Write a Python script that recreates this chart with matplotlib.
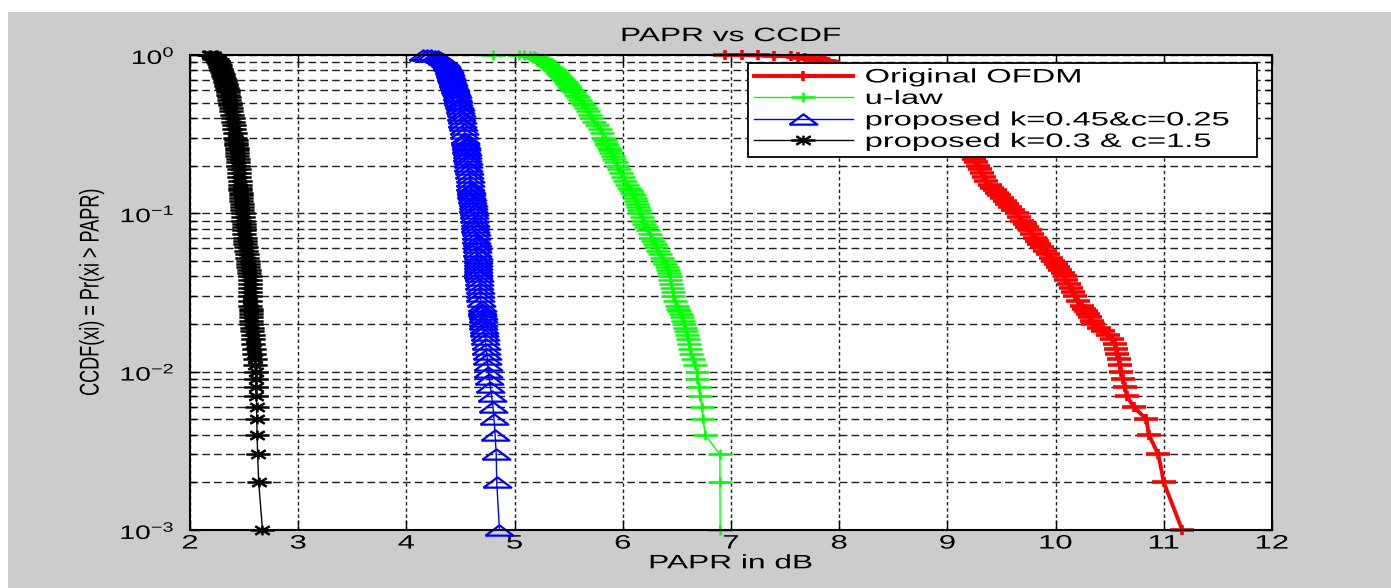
import matplotlib
matplotlib.use('Agg')
import matplotlib.pyplot as plt
from matplotlib.path import Path
from matplotlib.patches import Rectangle
from matplotlib.patheffects import AbstractPathEffect
from matplotlib.transforms import Affine2D
from matplotlib.ticker import NullFormatter

plt.rcParams['font.family'] = ['Liberation Sans', 'DejaVu Sans']
plt.rcParams['mathtext.fontset'] = 'custom'
plt.rcParams['mathtext.rm'] = 'Liberation Sans'
plt.rcParams['mathtext.it'] = 'Liberation Sans:italic'
plt.rcParams['mathtext.bf'] = 'Liberation Sans:bold'

# ---- data (CCDF level -> PAPR in dB for each scheme) ----
ccdf_levels = [
    1.0, 0.998, 0.995, 0.99, 0.98, 0.97, 0.96, 0.95, 0.94, 0.93, 0.92, 0.91, 0.9,
    0.88, 0.86, 0.84, 0.82, 0.8, 0.78, 0.76, 0.74, 0.72, 0.7,
    0.68, 0.66, 0.64, 0.62, 0.6, 0.58, 0.56, 0.54, 0.52, 0.5,
    0.48, 0.46, 0.44, 0.42, 0.4, 0.38, 0.36, 0.34, 0.32, 0.3,
    0.29, 0.28, 0.27, 0.26, 0.25, 0.24, 0.23, 0.22, 0.21, 0.2, 0.19, 0.18, 0.17, 0.16, 0.15,
    0.145, 0.14, 0.135, 0.13, 0.125, 0.12, 0.115, 0.11, 0.105, 0.1,
    0.095, 0.09, 0.086, 0.082, 0.078, 0.074, 0.07, 0.067, 0.064, 0.061, 0.058, 0.055, 0.052, 0.05,
    0.048, 0.046, 0.044, 0.042, 0.04, 0.038, 0.036, 0.034, 0.032, 0.03, 0.028, 0.026,
    0.025, 0.024, 0.023, 0.022, 0.021, 0.02, 0.019, 0.018, 0.017, 0.016, 0.015, 0.014, 0.013, 0.012, 0.011, 0.01,
    0.009, 0.008, 0.007, 0.006, 0.005, 0.004, 0.003, 0.002, 0.001]

papr_original = [
    6.94, 7.10, 7.25, 7.40, 7.55, 7.62, 7.68, 7.73, 7.77, 7.81, 7.84, 7.87, 7.90,
    7.94, 7.99, 8.05, 8.10, 8.15, 8.19, 8.24, 8.28, 8.33, 8.37,
    8.41, 8.45, 8.49, 8.52, 8.56, 8.60, 8.64, 8.67, 8.71, 8.74,
    8.77, 8.80, 8.83, 8.86, 8.89, 8.92, 8.96, 9.00, 9.04, 9.09,
    9.11, 9.13, 9.15, 9.17, 9.19, 9.21, 9.23, 9.25, 9.265, 9.28, 9.30, 9.32, 9.34, 9.36, 9.39,
    9.41, 9.44, 9.46, 9.48, 9.50, 9.53, 9.555, 9.58, 9.61, 9.64,
    9.665, 9.69, 9.715, 9.74, 9.76, 9.785, 9.81, 9.83, 9.85, 9.875, 9.90, 9.93, 9.96, 9.98,
    10.00, 10.025, 10.045, 10.07, 10.09, 10.10, 10.12, 10.14, 10.16, 10.18, 10.21, 10.24,
    10.26, 10.28, 10.30, 10.32, 10.335, 10.35, 10.40, 10.44, 10.48, 10.52, 10.545, 10.56, 10.57, 10.585, 10.595, 10.60,
    10.62, 10.64, 10.66, 10.72, 10.84, 10.86, 10.95, 11.00, 11.17]

papr_ulaw = [
    4.80, 5.04, 5.09, 5.14, 5.18, 5.20, 5.22, 5.233, 5.245, 5.255, 5.265, 5.275, 5.285,
    5.298, 5.31, 5.335, 5.355, 5.374, 5.39, 5.405, 5.42, 5.44, 5.46,
    5.474, 5.488, 5.50, 5.513, 5.527, 5.545, 5.565, 5.585, 5.605, 5.625,
    5.641, 5.658, 5.675, 5.693, 5.712, 5.736, 5.762, 5.785, 5.805, 5.82,
    5.832, 5.844, 5.856, 5.868, 5.88, 5.895, 5.908, 5.92, 5.934, 5.95, 5.966, 5.983, 6.00, 6.02, 6.04,
    6.06, 6.075, 6.088, 6.10, 6.11, 6.12, 6.13, 6.14, 6.15, 6.159,
    6.173, 6.188, 6.20, 6.215, 6.23, 6.247, 6.265, 6.28, 6.295, 6.31, 6.327, 6.345, 6.366, 6.38,
    6.392, 6.405, 6.416, 6.427, 6.433, 6.44, 6.446, 6.453, 6.46, 6.467, 6.482, 6.50,
    6.51, 6.522, 6.535, 6.545, 6.556, 6.566, 6.577, 6.585, 6.592, 6.60, 6.61, 6.62, 6.63, 6.645, 6.665, 6.683,
    6.69, 6.70, 6.713, 6.73, 6.744, 6.76, 6.898, 6.898, 6.90]

papr_k045 = [
    4.15, 4.19, 4.23, 4.26, 4.29, 4.305, 4.32, 4.33, 4.34, 4.348, 4.355, 4.36, 4.365,
    4.372, 4.378, 4.39, 4.395, 4.40, 4.405, 4.41, 4.416, 4.422, 4.428,
    4.434, 4.44, 4.446, 4.453, 4.46, 4.465, 4.47, 4.476, 4.481, 4.487,
    4.492, 4.497, 4.502, 4.507, 4.512, 4.518, 4.524, 4.53, 4.536, 4.542,
    4.545, 4.548, 4.551, 4.554, 4.557, 4.56, 4.563, 4.566, 4.569, 4.572, 4.576, 4.58, 4.584, 4.588, 4.592,
    4.595, 4.598, 4.601, 4.604, 4.607, 4.611, 4.615, 4.618, 4.622, 4.625,
    4.628, 4.631, 4.634, 4.637, 4.64, 4.643, 4.646, 4.649, 4.652, 4.654, 4.656, 4.658, 4.659, 4.66,
    4.661, 4.663, 4.664, 4.666, 4.668, 4.671, 4.674, 4.677, 4.68, 4.683, 4.688, 4.695,
    4.70, 4.703, 4.706, 4.708, 4.71, 4.712, 4.716, 4.72, 4.724, 4.728, 4.733, 4.738, 4.743, 4.748, 4.752, 4.757,
    4.766, 4.776, 4.788, 4.80, 4.81, 4.82, 4.83, 4.835, 4.86]

papr_k03 = [
    2.18, 2.187, 2.196, 2.21, 2.218, 2.225, 2.235, 2.24, 2.246, 2.25, 2.255, 2.258, 2.262,
    2.267, 2.273, 2.279, 2.284, 2.29, 2.296, 2.302, 2.309, 2.315, 2.322,
    2.327, 2.332, 2.337, 2.342, 2.347, 2.351, 2.355, 2.359, 2.363, 2.368,
    2.373, 2.378, 2.383, 2.389, 2.395, 2.40, 2.405, 2.41, 2.415, 2.42,
    2.422, 2.425, 2.427, 2.43, 2.432, 2.435, 2.437, 2.44, 2.443, 2.447, 2.45, 2.453, 2.456, 2.459, 2.462,
    2.464, 2.466, 2.468, 2.47, 2.472, 2.475, 2.478, 2.481, 2.484, 2.488,
    2.49, 2.493, 2.496, 2.498, 2.50, 2.503, 2.506, 2.509, 2.512, 2.515, 2.519, 2.523, 2.528, 2.532,
    2.536, 2.54, 2.544, 2.548, 2.55, 2.552, 2.553, 2.554, 2.555, 2.556, 2.557, 2.559,
    2.56, 2.561, 2.563, 2.565, 2.566, 2.568, 2.572, 2.575, 2.578, 2.58, 2.585, 2.59, 2.595, 2.60, 2.605, 2.61,
    2.611, 2.612, 2.614, 2.615, 2.617, 2.62, 2.625, 2.635, 2.67]

series_labels = ['Original OFDM', 'u-law', 'proposed k=0.45&c=0.25', 'proposed k=0.3 & c=1.5']
x_ticks = [2, 3, 4, 5, 6, 7, 8, 9, 10, 11, 12]
y_ticks = [1e-3, 1e-2, 1e-1, 1e0]


# the source figure was resized wider than tall, so text is drawn stretched
class Stretch(AbstractPathEffect):
    def __init__(self, sx=1.0, sy=1.0, anchor='center'):
        super().__init__()
        self.sx, self.sy, self.anchor = sx, sy, anchor

    def draw_path(self, renderer, gc, tpath, affine, rgbFace=None):
        ext = tpath.get_extents()
        if self.anchor == 'left':
            cx = 0.0
        elif self.anchor == 'right':
            cx = ext.x1
        else:
            cx = (ext.x0 + ext.x1) / 2
        cy = (ext.y0 + ext.y1) / 2
        st = Affine2D().translate(-cx, -cy).scale(self.sx, self.sy).translate(cx, cy)
        renderer.draw_path(gc, tpath, st + affine, rgbFace)


# wide markers (same stretch as the text)
M, L = Path.MOVETO, Path.LINETO
plus_wide = Path([(-1, 0), (1, 0), (0, -0.45), (0, 0.45)], [M, L, M, L])
tri_wide = Path([(-1, -0.37), (1, -0.37), (0, 0.37), (-1, -0.37)], [M, L, L, L])
star_wide = Path([(-1, 0), (1, 0), (0, -0.4), (0, 0.4),
                  (-0.6, -0.35), (0.6, 0.35), (-0.6, 0.35), (0.6, -0.35)],
                 [M, L, M, L, M, L, M, L])

fig = plt.figure(figsize=(13.91, 5.88), dpi=100, facecolor='white')
fig.add_artist(Rectangle((8 / 1391, 0), 1, 576 / 588, transform=fig.transFigure,
                         facecolor='#cccccc', edgecolor='none', zorder=-1))
ax = fig.add_axes([190 / 1391, 58 / 588, 1082 / 1391, 475 / 588])
ax.set_facecolor('white')

ax.plot(papr_original, ccdf_levels, color=(1, 0, 0), lw=2.8, marker=plus_wide,
        ms=17, mew=2.6, label=series_labels[0], clip_on=False)
ax.plot(papr_ulaw, ccdf_levels, color=(0, 1, 0), lw=1.0, marker=plus_wide,
        ms=17, mew=1.8, label=series_labels[1], clip_on=False)
ax.plot(papr_k045, ccdf_levels, color=(0, 0, 1), lw=1.0, marker=tri_wide,
        ms=20, mew=1.6, mfc='none', label=series_labels[2], clip_on=False)
ax.plot(papr_k03, ccdf_levels, color='black', lw=1.0, marker=star_wide,
        ms=17.5, mew=1.8, label=series_labels[3], clip_on=False)

ax.set_yscale('log')
ax.set_xlim(2, 12)
ax.set_ylim(1e-3, 1)
ax.set_xticks(x_ticks)
ax.set_yticks(y_ticks)
ax.yaxis.set_minor_formatter(NullFormatter())

# matlab style grid
ax.set_axisbelow(True)
ax.xaxis.grid(True, which='major', color='#1e1e1e', linestyle=(0, (2.5, 2.0)), linewidth=1.0)
ax.yaxis.grid(True, which='both', color='#1e1e1e', linestyle=(0, (5.5, 3.0)), linewidth=1.0)

ax.tick_params(which='both', direction='in', top=True, right=True, width=1.0, color='black')
ax.tick_params(which='major', length=7)
ax.tick_params(which='minor', length=4)
ax.tick_params(axis='x', labelsize=14, pad=4)
ax.tick_params(axis='y', labelsize=14, pad=11)
for sp in ax.spines.values():
    sp.set_linewidth(1.5)
    sp.set_color('black')

for t in ax.get_xticklabels():
    t.set_path_effects([Stretch(sx=1.6)])
for t in ax.get_yticklabels():
    t.set_path_effects([Stretch(sx=1.45, anchor='right')])

ax.set_title('PAPR vs CCDF', fontsize=14, pad=10, path_effects=[Stretch(sx=1.63)])
ax.set_xlabel('PAPR in dB', fontsize=14, labelpad=2, path_effects=[Stretch(sx=1.63)])
ax.set_ylabel('CCDF(xi) = Pr(xi > PAPR)', fontsize=13, path_effects=[Stretch(sy=1.5)])
ax.yaxis.set_label_coords(-0.083, 0.5)

leg = ax.legend(loc='upper left', bbox_to_anchor=(0.5157, 0.0, 0.4704, 0.9832), mode='expand',
                borderaxespad=0, fontsize=14, handlelength=5.1, handletextpad=0.6,
                labelspacing=0.2, borderpad=0.3, fancybox=False, framealpha=1,
                edgecolor='black')
leg.get_frame().set_linewidth(1.3)
for t in leg.get_texts():
    t.set_path_effects([Stretch(sx=1.68, anchor='left')])

fig.savefig('out.png', dpi=100, facecolor='white')
